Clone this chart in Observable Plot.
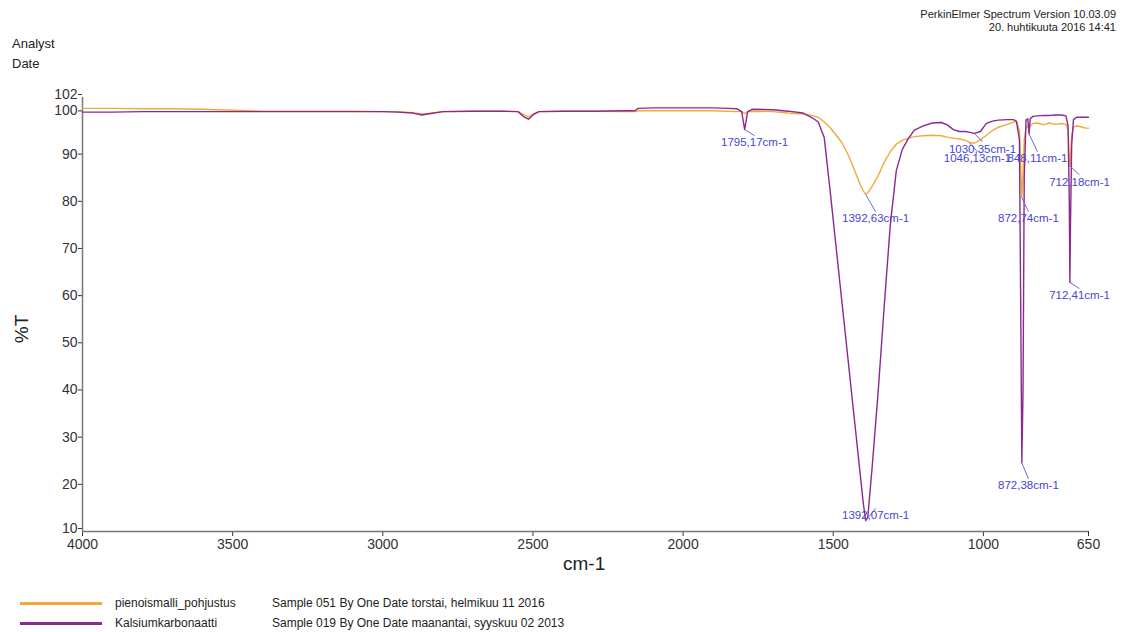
<!DOCTYPE html>
<html>
<head>
<meta charset="utf-8">
<script src="https://cdn.jsdelivr.net/npm/d3@7"></script>
<script src="https://cdn.jsdelivr.net/npm/@observablehq/plot@0.6"></script>
<style>
  body { margin: 0; background: #fff; font-family: "Liberation Sans", Arial, sans-serif; }
  #wrap { position: relative; width: 1126px; height: 632px; overflow: hidden; }
  .ov { position: absolute; white-space: nowrap; color: #222; }
  .sw { position: absolute; height: 3px; }
</style>
</head>
<body>
<div id="wrap"></div>
<script>
// wavenumber grid (cm-1)
const wavenumbers = [4000,3900,3800,3700,3600,3500,3400,3300,3200,3100,3000,2950,2900,2870,2850,2800,2700,2600,2550,2530,2515,2500,2480,2400,2300,2200,2160,2150,2100,2000,1950,1900,1850,1820,1805,1795,1785,1770,1700,1650,1600,1570,1550,1530,1510,1490,1470,1450,1430,1410,1400,1392,1385,1370,1350,1330,1310,1290,1270,1250,1230,1200,1170,1140,1120,1100,1080,1060,1045,1030,1010,990,970,950,920,900,890,880,876,872,868,864,858,852,848,844,835,820,800,780,760,740,725,718,714,712,710,706,700,690,675,660,650];

// %T, pienoismalli_pohjustus (orange)
const orangeT = [99.7,99.7,99.6,99.6,99.5,99.3,99.1,99.1,99.1,99.1,99.0,99.0,98.8,98.5,98.6,99.0,99.1,99.1,99.0,98.3,97.9,98.5,99.0,99.1,99.1,99.0,99.0,99.2,99.2,99.2,99.2,99.2,99.1,99.0,99.0,98.6,99.0,99.1,99.0,98.7,98.5,98.2,97.8,96.8,95.6,94.0,92.3,89.8,86.7,83.5,82.2,81.5,81.8,83.2,85.5,88.3,90.5,92.1,92.9,93.4,93.7,93.9,94.0,93.9,93.6,93.4,93.2,92.9,92.5,92.3,93.0,94.0,95.0,95.7,96.3,96.8,96.9,95.0,88.0,80.8,86.0,93.0,95.5,96.0,95.5,96.0,96.5,96.6,96.2,96.6,96.3,96.5,96.3,95.0,89.0,87.5,89.0,94.0,95.7,96.0,95.8,95.5,95.5];

// %T, Kalsiumkarbonaatti (purple)
const purpleT = [98.9,98.9,99.0,99.0,99.0,99.0,99.0,99.0,99.0,99.0,99.0,98.9,98.7,98.3,98.5,99.0,99.1,99.1,99.0,97.9,97.4,98.3,99.0,99.1,99.1,99.2,99.2,99.7,99.8,99.8,99.8,99.8,99.7,99.6,99.0,95.2,99.0,99.5,99.4,99.1,98.7,97.7,96.8,93.5,82.0,70.0,58.0,46.0,34.0,22.0,16.0,12.3,13.0,24.0,40.0,58.0,75.0,86.5,91.0,93.3,95.1,96.0,96.6,96.7,96.2,95.2,94.8,94.8,94.6,94.4,94.8,96.5,97.0,97.2,97.3,97.3,97.0,93.0,60.0,24.6,40.0,85.0,97.2,97.5,94.3,97.5,98.0,98.1,98.2,98.2,98.3,98.3,98.1,96.0,80.0,62.8,75.0,92.0,97.3,97.8,97.8,97.8,97.8];

const xTicks = [4000,3500,3000,2500,2000,1500,1000,650];
const yTicksMid = [20,30,40,50,60,70,80,90];

// peak annotations: label, peak position, connector end (data units)
const peakLabels = ["1795,17cm-1","1392,63cm-1","1392,07cm-1","1030,35cm-1","1046,13cm-1","848,11cm-1","872,74cm-1","872,38cm-1","712,18cm-1","712,41cm-1"];
const peakWn     = [1795.17,1392.63,1392.07,1030.35,1046.13,848.11,872.74,872.38,712.18,712.41];
const peakT      = [95.2,81.5,12.3,94.4,92.4,94.3,80.8,24.6,87.5,62.8];
const labelWn    = [1762,1359,1359,1003,1020,820,850,850,680,680];
const labelT     = [93.9,77.8,14.9,92.6,90.5,90.5,77.8,21.2,85.6,61.5];

const seriesNames = ["pienoismalli_pohjustus","Kalsiumkarbonaatti"];
const seriesInfo = ["Sample 051 By One Date torstai, helmikuu 11 2016","Sample 019 By One Date maanantai, syyskuu 02 2013"];
const seriesColors = ["#f2a93b","#8a2a8e"];

const orange = wavenumbers.map((w, i) => ({wn: w, T: orangeT[i]}));
const purple = wavenumbers.map((w, i) => ({wn: w, T: purpleT[i]}));
const peaks = peakLabels.map((l, i) => ({label: l, wn: peakWn[i], T: peakT[i], lwn: labelWn[i], lT: labelT[i]}));

const yAxisStyle = {tickSize: 4, tickPadding: 1, fontSize: 14, color: "#333", label: null, tickFormat: d => String(d)};

const chart = Plot.plot({
  width: 1126,
  height: 632,
  marginLeft: 82,
  marginRight: 38,
  marginTop: 97,
  marginBottom: 101,
  style: {fontFamily: "'Liberation Sans', Arial, sans-serif", background: "transparent"},
  x: {domain: [4000, 650], ticks: xTicks},
  y: {domain: [10, 102]},
  marks: [
    Plot.axisX({ticks: xTicks, tickSize: 5, tickPadding: 3, fontSize: 14, color: "#333", label: null, tickFormat: d => String(d)}),
    Plot.axisY({...yAxisStyle, ticks: yTicksMid}),
    Plot.axisY({...yAxisStyle, ticks: [10], dy: -3}),
    Plot.axisY({...yAxisStyle, ticks: [100], dy: 4}),
    Plot.axisY({...yAxisStyle, ticks: [102], dy: -3}),
    Plot.ruleX([4000], {stroke: "#777", strokeWidth: 1.5}),
    Plot.ruleY([10], {stroke: "#777", strokeWidth: 1.5}),
    Plot.line(orange, {x: "wn", y: "T", stroke: seriesColors[0], strokeWidth: 1.4}),
    Plot.line(purple, {x: "wn", y: "T", stroke: seriesColors[1], strokeWidth: 1.4}),
    Plot.link(peaks, {x1: "wn", y1: "T", x2: "lwn", y2: "lT", stroke: "#6a6ad8", strokeWidth: 1}),
    Plot.text(peaks, {x: "lwn", y: "lT", text: "label", dy: 7, fill: "#4646d2", fontSize: 11.5})
  ]
});

const wrap = document.getElementById("wrap");
chart.style.position = "absolute";
chart.style.left = "0";
chart.style.top = "0";
wrap.appendChild(chart);

function addText(txt, css) {
  const d = document.createElement("div");
  d.className = "ov";
  d.textContent = txt;
  Object.assign(d.style, css);
  wrap.appendChild(d);
  return d;
}
addText("PerkinElmer Spectrum Version 10.03.09", {right: "10px", top: "8px", fontSize: "11px", textAlign: "right"});
addText("20. huhtikuuta 2016 14:41", {right: "10px", top: "21px", fontSize: "11px", textAlign: "right"});
addText("Analyst", {left: "12px", top: "36px", fontSize: "13px"});
addText("Date", {left: "12px", top: "56px", fontSize: "13px"});
addText("cm-1", {left: "563px", top: "553px", fontSize: "19px"});
addText("%T", {left: "8px", top: "318px", fontSize: "19px", transform: "rotate(-90deg)", transformOrigin: "50% 50%"});

seriesNames.forEach((n, i) => {
  const top = 596 + i * 20;
  const sw = document.createElement("div");
  sw.className = "sw";
  Object.assign(sw.style, {left: "20px", width: "82px", top: (top + 6) + "px", background: seriesColors[i]});
  wrap.appendChild(sw);
  addText(n, {left: "115px", top: top + "px", fontSize: "12px"});
  addText(seriesInfo[i], {left: "272px", top: top + "px", fontSize: "12px"});
});
</script>
</body>
</html>
